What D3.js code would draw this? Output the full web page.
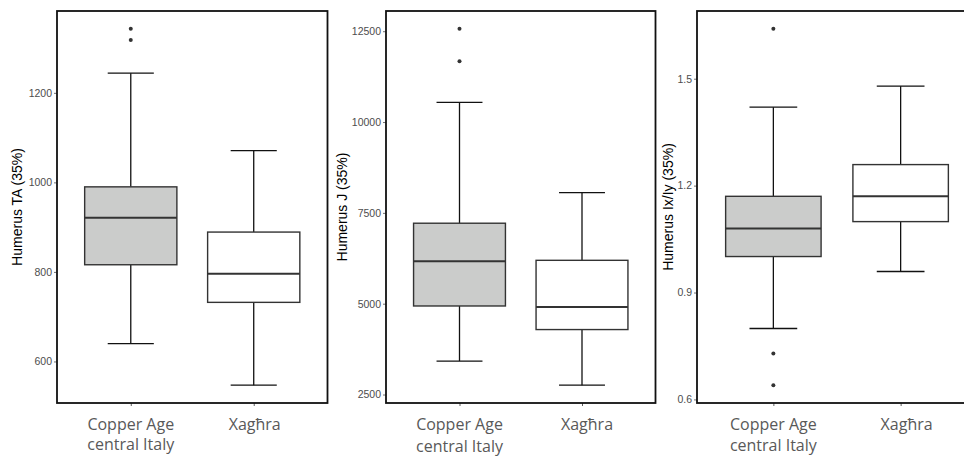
<!DOCTYPE html>
<html>
<head>
<meta charset="utf-8">
<script src="https://cdn.jsdelivr.net/npm/d3@7"></script>
<style>
  html, body { margin: 0; padding: 0; background: #fff; }
  svg { display: block; }
</style>
</head>
<body>
<div id="chart"></div>
<script>
// groups on the x axis (two lines for the first one)
const categories = [["Copper Age", "central Italy"], ["Xagħra"]];
const fills = ["#cbcccb", "#ffffff"];

// box stats: [lower whisker, q1, median, q3, upper whisker]
const taBoxes = [[640, 816, 921, 990, 1244], [547, 732, 796, 889, 1071]];
const taOutliers = [[1318, 1343], []];
const taTicks = [600, 800, 1000, 1200];

const jBoxes = [[3421, 4937, 6167, 7215, 10539], [2757, 4288, 4910, 6194, 8056]];
const jOutliers = [[11671, 12566], []];
const jTicks = [2500, 5000, 7500, 10000, 12500];

const ratioBoxes = [[0.799, 1.001, 1.080, 1.170, 1.420], [0.959, 1.099, 1.170, 1.259, 1.479]];
const ratioOutliers = [[0.640, 0.729, 1.640], []];
const ratioTicks = [0.6, 0.9, 1.2, 1.5];

const W = 964, H = 456;
const TOP = 11, BOTTOM = 403;

const panels = [
    {title: "Humerus TA (35%)", boxes: taBoxes, outliers: taOutliers, ticks: taTicks,
        fmt: d3.format("d"), left: 57, right: 327.5, titleX: 17.5, lineGap: 20, labelShift: [0, 1]},
    {title: "Humerus J (35%)", boxes: jBoxes, outliers: jOutliers, ticks: jTicks,
        fmt: d3.format("d"), left: 386, right: 655.5, titleX: 342, lineGap: 22, labelShift: [0, 5]},
    {title: "Humerus Ix/Iy (35%)", boxes: ratioBoxes, outliers: ratioOutliers, ticks: ratioTicks,
        fmt: d3.format(".1f"), left: 697, right: 977, titleX: 668, lineGap: 21, labelShift: [0, 6]}
];

const svg = d3.select("#chart").append("svg")
    .attr("width", W)
    .attr("height", H);

panels.forEach(p => drawPanel(p));

function drawPanel(p) {
    // ggplot style: 5% padding on the continuous scale, 0.6 on the discrete one
    const all = p.boxes.flat().concat(p.outliers.flat());
    const lo = d3.min(all), hi = d3.max(all);
    const pad = (hi - lo) * 0.05;

    const y = d3.scaleLinear()
        .domain([lo - pad, hi + pad])
        .range([BOTTOM, TOP]);

    const x = d3.scaleLinear()
        .domain([0.4, categories.length + 0.6])
        .range([p.left, p.right]);

    const unit = x(2) - x(1);
    const boxW = unit * 0.75;
    const capW = boxW / 2;

    const g = svg.append("g");

    // y axis
    const yAxis = d3.axisLeft(y)
        .tickValues(p.ticks)
        .tickFormat(p.fmt)
        .tickSize(3)
        .tickPadding(2);

    const ya = g.append("g")
        .attr("transform", `translate(${p.left},0)`)
        .call(yAxis);
    ya.select(".domain").remove();
    ya.selectAll(".tick line").attr("stroke", "#4d4d4d").attr("stroke-width", 0.8);
    ya.selectAll(".tick text")
        .attr("fill", "#4d4d4d")
        .style("font-family", "'Liberation Sans', Arial, sans-serif")
        .style("font-size", "10.5px");

    // x ticks (labels drawn by hand because of the two-line label)
    const xa = g.append("g")
        .attr("transform", `translate(0,${BOTTOM})`)
        .call(d3.axisBottom(x).tickValues([1, 2]).tickSize(3).tickFormat(""));
    xa.select(".domain").remove();
    xa.selectAll(".tick line").attr("stroke", "#333").attr("stroke-width", 0.8);

    // boxes
    const box = g.selectAll(".box")
        .data(p.boxes)
        .enter()
        .append("g")
        .attr("class", "box");

    // whiskers
    box.append("line")
        .attr("x1", (d, i) => x(i + 1))
        .attr("x2", (d, i) => x(i + 1))
        .attr("y1", d => y(d[3]))
        .attr("y2", d => y(d[4]))
        .attr("stroke", "#111").attr("stroke-width", 1.3);
    box.append("line")
        .attr("x1", (d, i) => x(i + 1))
        .attr("x2", (d, i) => x(i + 1))
        .attr("y1", d => y(d[1]))
        .attr("y2", d => y(d[0]))
        .attr("stroke", "#111").attr("stroke-width", 1.3);
    // caps
    [0, 4].forEach(k => {
        box.append("line")
            .attr("x1", (d, i) => x(i + 1) - capW / 2)
            .attr("x2", (d, i) => x(i + 1) + capW / 2)
            .attr("y1", d => y(d[k]))
            .attr("y2", d => y(d[k]))
            .attr("stroke", "#111").attr("stroke-width", 1.3);
    });

    box.append("rect")
        .attr("x", (d, i) => x(i + 1) - boxW / 2)
        .attr("width", boxW)
        .attr("y", d => y(d[3]))
        .attr("height", d => y(d[1]) - y(d[3]))
        .attr("fill", (d, i) => fills[i])
        .attr("stroke", "#333")
        .attr("stroke-width", 1.4);

    box.append("line")
        .attr("x1", (d, i) => x(i + 1) - boxW / 2)
        .attr("x2", (d, i) => x(i + 1) + boxW / 2)
        .attr("y1", d => y(d[2]))
        .attr("y2", d => y(d[2]))
        .attr("stroke", "#333").attr("stroke-width", 2);

    // outliers
    p.outliers.forEach((arr, i) => {
        g.selectAll(null)
            .data(arr)
            .enter()
            .append("circle")
            .attr("cx", x(i + 1))
            .attr("cy", d => y(d))
            .attr("r", 2)
            .attr("fill", "#333");
    });

    // panel frame
    g.append("rect")
        .attr("x", p.left)
        .attr("y", TOP)
        .attr("width", p.right - p.left)
        .attr("height", BOTTOM - TOP)
        .attr("fill", "none")
        .attr("stroke", "#111")
        .attr("stroke-width", 1.8);

    // y title
    g.append("text")
        .attr("transform", `translate(${p.titleX},${(TOP + BOTTOM) / 2}) rotate(-90)`)
        .attr("text-anchor", "middle")
        .attr("dy", "0.35em")
        .style("font-family", "'Liberation Sans', Arial, sans-serif")
        .style("font-size", "14px")
        .attr("fill", "#000")
        .text(p.title);

    // x labels, one text per line
    categories.forEach((lines, i) => {
        lines.forEach((s, k) => {
            g.append("text")
                .attr("text-anchor", "middle")
                .style("font-family", "'Open Sans', sans-serif")
                .style("font-size", "16px")
                .attr("fill", "#595959")
                .attr("x", x(i + 1) + p.labelShift[i])
                .attr("y", 430 + k * p.lineGap)
                .text(s);
        });
    });
}
</script>
</body>
</html>
